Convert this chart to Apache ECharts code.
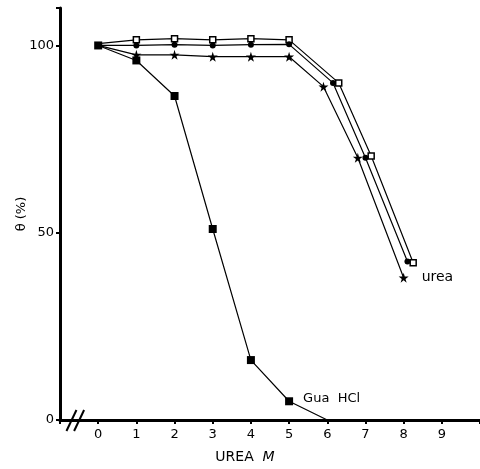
<!DOCTYPE html>
<html>
<head>
<meta charset="utf-8">
<script src="https://cdn.jsdelivr.net/npm/echarts@6/dist/echarts.min.js"></script>
<style>
html,body{margin:0;padding:0;background:#fff;}
#chart{width:480px;height:469px;}
</style>
</head>
<body>
<div id="chart"></div>
<script>
// Data
const guaX = [0, 1, 2, 3, 4, 5, 6];
const guaY = [100, 96, 86.5, 51, 16, 5, 0];

const sqX = [0, 1, 2, 3, 4, 5, 6.3, 7.15, 8.25];
const sqY = [100.5, 101.5, 101.8, 101.5, 101.8, 101.5, 90, 70.5, 42];

const circX = [0, 1, 2, 3, 4, 5, 6.15, 7.0, 8.1];
const circY = [100, 100, 100.2, 100, 100.2, 100.3, 90, 70, 42.3];

const starX = [0, 1, 2, 3, 4, 5, 5.9, 6.8, 8.0];
const starY = [100, 97.5, 97.5, 97, 97, 97, 89, 70, 38];

const xTickLabels = ['0','1','2','3','4','5','6','7','8','9'];
const yTickLabels = ['0','50','100'];

const STAR = 'path://M50,0 L61,35 L98,35 L68,57 L79,91 L50,70 L21,91 L32,57 L2,35 L39,35 Z';
const FONT = 'DejaVu Sans';

function pairs(xs, ys, opts) {
  return xs.map((x, i) => {
    const item = { value: [x, ys[i]] };
    if (opts && opts[i]) Object.assign(item, opts[i]);
    return item;
  });
}

const chart = echarts.init(document.getElementById('chart'), null, { renderer: 'canvas' });

const option = {
  animation: false,
  backgroundColor: '#fff',
  grid: { left: 60, right: 0, top: 8, bottom: 49, outerBoundsMode: 'none' },
  xAxis: {
    type: 'value', min: -1, max: 10, interval: 1,
    axisLine: { onZero: false, lineStyle: { color: '#000', width: 3 } },
    axisTick: { show: true, length: 4, lineStyle: { color: '#000', width: 2 } },
    axisLabel: {
      color: '#000', fontFamily: FONT, fontSize: 13, margin: 8,
      formatter: v => (v >= 0 && v <= 9) ? xTickLabels[v] : ''
    },
    splitLine: { show: false },
    name: '{a|UREA  }{b|M}',
    nameLocation: 'middle', nameGap: 30, nameMoveOverlap: false,
    nameTextStyle: {
      padding: [0, 50, 0, 0],
      rich: {
        a: { fontFamily: FONT, fontSize: 14, color: '#000' },
        b: { fontFamily: FONT, fontSize: 14, color: '#000', fontStyle: 'italic' }
      }
    }
  },
  yAxis: {
    type: 'value', min: 0, max: 110, interval: 50,
    axisLine: { onZero: false, lineStyle: { color: '#000', width: 3 } },
    axisTick: { show: true, length: 4, lineStyle: { color: '#000', width: 2 } },
    axisLabel: {
      color: '#000', fontFamily: FONT, fontSize: 13, margin: 6,
      formatter: v => yTickLabels.includes(String(v)) ? String(v) : ''
    },
    splitLine: { show: false },
    name: 'θ (%)', nameLocation: 'middle', nameGap: 32, nameMoveOverlap: false,
    nameTextStyle: { color: '#000', fontFamily: FONT, fontSize: 13 }
  },
  series: [
    {
      name: 'square', type: 'line',
      data: pairs(sqX, sqY, { 0: { symbol: 'none' } }),
      symbol: 'rect', symbolSize: 6,
      itemStyle: { color: '#fff', borderColor: '#000', borderWidth: 1.5 },
      lineStyle: { color: '#000', width: 1.2 }
    },
    {
      name: 'circle', type: 'line',
      data: pairs(circX, circY, { 0: { symbol: 'none' } }),
      symbol: 'circle', symbolSize: 6,
      itemStyle: { color: '#000' },
      lineStyle: { color: '#000', width: 1.2 }
    },
    {
      name: 'star', type: 'line',
      data: pairs(starX, starY, {
        0: { symbol: 'none' },
        8: { label: { show: true, formatter: 'urea', position: 'right', distance: 13,
             color: '#000', fontFamily: FONT, fontSize: 14 } }
      }),
      symbol: STAR, symbolSize: 10,
      itemStyle: { color: '#000' },
      lineStyle: { color: '#000', width: 1.2 }
    },
    {
      name: 'Gua HCl', type: 'line',
      data: pairs(guaX, guaY, {
        5: { label: { show: true, formatter: 'Gua  HCl', position: 'right', distance: 10,
             offset: [0, -3], color: '#000', fontFamily: FONT, fontSize: 13 } },
        6: { symbol: 'none' }
      }),
      symbol: 'rect', symbolSize: 8,
      itemStyle: { color: '#000' },
      lineStyle: { color: '#000', width: 1.2 },
      z: 5
    }
  ]
};
chart.setOption(option);

// axis-break marks "//" on the x axis
const p = chart.convertToPixel({ gridIndex: 0 }, [-0.7, 0]);
const p2 = chart.convertToPixel({ gridIndex: 0 }, [-0.5, 0]);
chart.setOption({
  graphic: [
    { type: 'line', shape: { x1: p[0] - 5, y1: p[1] + 11, x2: p[0] + 5, y2: p[1] - 10 }, style: { stroke: '#000', lineWidth: 2 } },
    { type: 'line', shape: { x1: p2[0] - 5, y1: p2[1] + 11, x2: p2[0] + 5, y2: p2[1] - 10 }, style: { stroke: '#000', lineWidth: 2 } }
  ]
});
</script>
</body>
</html>
